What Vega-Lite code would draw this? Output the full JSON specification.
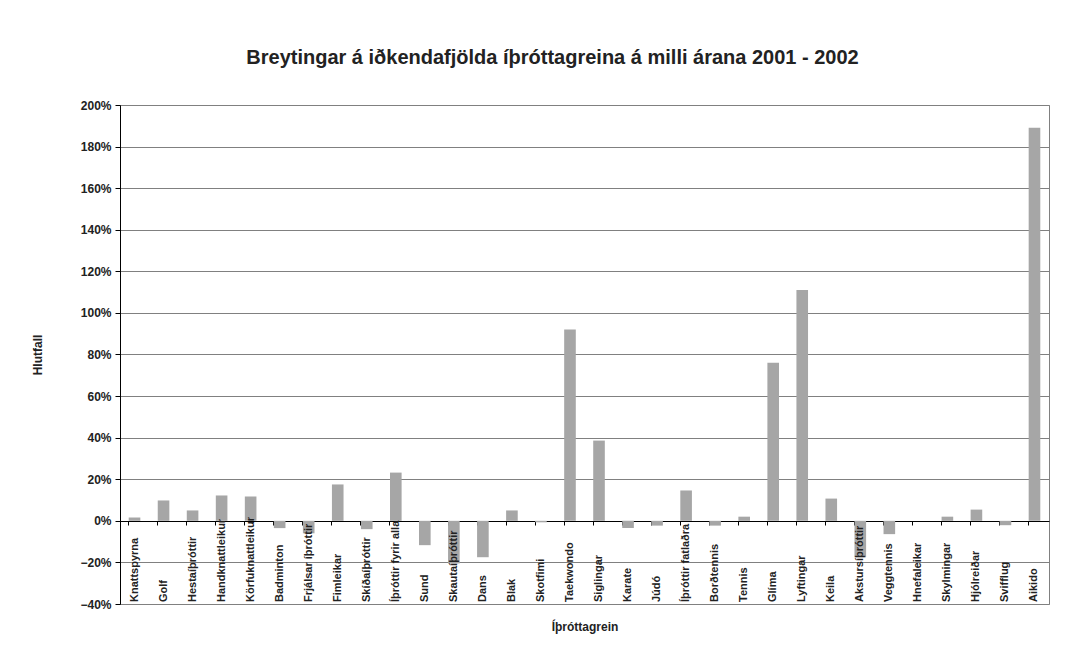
{
  "$schema": "https://vega.github.io/schema/vega-lite/v6.json",
  "width": 929,
  "height": 499,
  "autosize": {"type": "none"},
  "padding": {"left": 120, "top": 105, "right": 39, "bottom": 62},
  "background": "white",
  "title": {
    "text": "Breytingar á iðkendafjölda íþróttagreina á milli árana 2001 - 2002",
    "font": "Liberation Sans",
    "fontSize": 20,
    "fontWeight": "bold",
    "color": "#222222",
    "anchor": "middle",
    "offset": 31,
    "dx": -32
  },
  "config": {
    "view": {"stroke": "#808080", "strokeWidth": 1},
    "font": "Liberation Sans"
  },
  "data": {
    "values": [
      {"grein": "Knattspyrna", "hlutfall": 0.016},
      {"grein": "Golf", "hlutfall": 0.098},
      {"grein": "Hestaíþróttir", "hlutfall": 0.05},
      {"grein": "Handknattleikur", "hlutfall": 0.122},
      {"grein": "Körfuknattleikur", "hlutfall": 0.117},
      {"grein": "Badminton", "hlutfall": -0.035},
      {"grein": "Frjálsar íþróttir", "hlutfall": -0.06},
      {"grein": "Fimleikar", "hlutfall": 0.175},
      {"grein": "Skíðaíþróttir", "hlutfall": -0.04},
      {"grein": "Íþróttir fyrir alla", "hlutfall": 0.232},
      {"grein": "Sund", "hlutfall": -0.117},
      {"grein": "Skautaíþróttir", "hlutfall": -0.205},
      {"grein": "Dans", "hlutfall": -0.175},
      {"grein": "Blak", "hlutfall": 0.05},
      {"grein": "Skotfimi", "hlutfall": -0.007},
      {"grein": "Taekwondo", "hlutfall": 0.92},
      {"grein": "Siglingar", "hlutfall": 0.386},
      {"grein": "Karate", "hlutfall": -0.035},
      {"grein": "Júdó", "hlutfall": -0.023},
      {"grein": "Íþróttir fatlaðra", "hlutfall": 0.146},
      {"grein": "Borðtennis", "hlutfall": -0.023},
      {"grein": "Tennis", "hlutfall": 0.02},
      {"grein": "Glíma", "hlutfall": 0.76},
      {"grein": "Lyftingar", "hlutfall": 1.11},
      {"grein": "Keila", "hlutfall": 0.107},
      {"grein": "Akstursíþróttir", "hlutfall": -0.175},
      {"grein": "Veggtennis", "hlutfall": -0.064},
      {"grein": "Hnefaleikar", "hlutfall": 0},
      {"grein": "Skylmingar", "hlutfall": 0.02},
      {"grein": "Hjólreiðar", "hlutfall": 0.054},
      {"grein": "Svifflug", "hlutfall": -0.021},
      {"grein": "Aikido", "hlutfall": 1.89}
    ]
  },
  "encoding": {
    "x": {
      "field": "grein",
      "type": "nominal",
      "sort": null,
      "scale": {"paddingInner": 0.6, "paddingOuter": 0.3},
      "axis": {
        "offset": -83,
        "labels": false,
        "domainColor": "#000000",
        "tickColor": "#000000",
        "tickSize": 4,
        "bandPosition": 0,
        "title": "Íþróttagrein",
        "titlePadding": 96,
        "titleFont": "Liberation Sans",
        "titleFontSize": 12,
        "titleFontWeight": "bold",
        "titleColor": "#222222"
      }
    }
  },
  "layer": [
    {
      "mark": {"type": "bar", "color": "#a6a6a6"},
      "encoding": {
        "y": {
          "field": "hlutfall",
          "type": "quantitative",
          "scale": {"domain": [-0.4, 2], "nice": false, "zero": false},
          "axis": {
            "title": "Hlutfall",
            "format": ".0%",
            "values": [-0.4, -0.2, 0, 0.2, 0.4, 0.6, 0.8, 1, 1.2, 1.4, 1.6, 1.8, 2],
            "labelFont": "Liberation Sans",
            "labelFontSize": 12,
            "labelFontWeight": "bold",
            "labelColor": "#222222",
            "labelPadding": 4,
            "tickSize": 5,
            "tickColor": "#000000",
            "domainColor": "#000000",
            "grid": true,
            "gridColor": "#808080",
            "gridOpacity": 1,
            "titleFont": "Liberation Sans",
            "titleFontSize": 12,
            "titleFontWeight": "bold",
            "titleColor": "#222222",
            "titlePadding": 35
          }
        }
      }
    },
    {
      "mark": {
        "type": "text",
        "angle": 270,
        "align": "left",
        "baseline": "middle",
        "dx": 2,
        "font": "Liberation Sans",
        "fontSize": 11,
        "fontWeight": "bold",
        "color": "#222222"
      },
      "encoding": {
        "y": {"datum": -0.4},
        "text": {"field": "grein"}
      }
    }
  ]
}
